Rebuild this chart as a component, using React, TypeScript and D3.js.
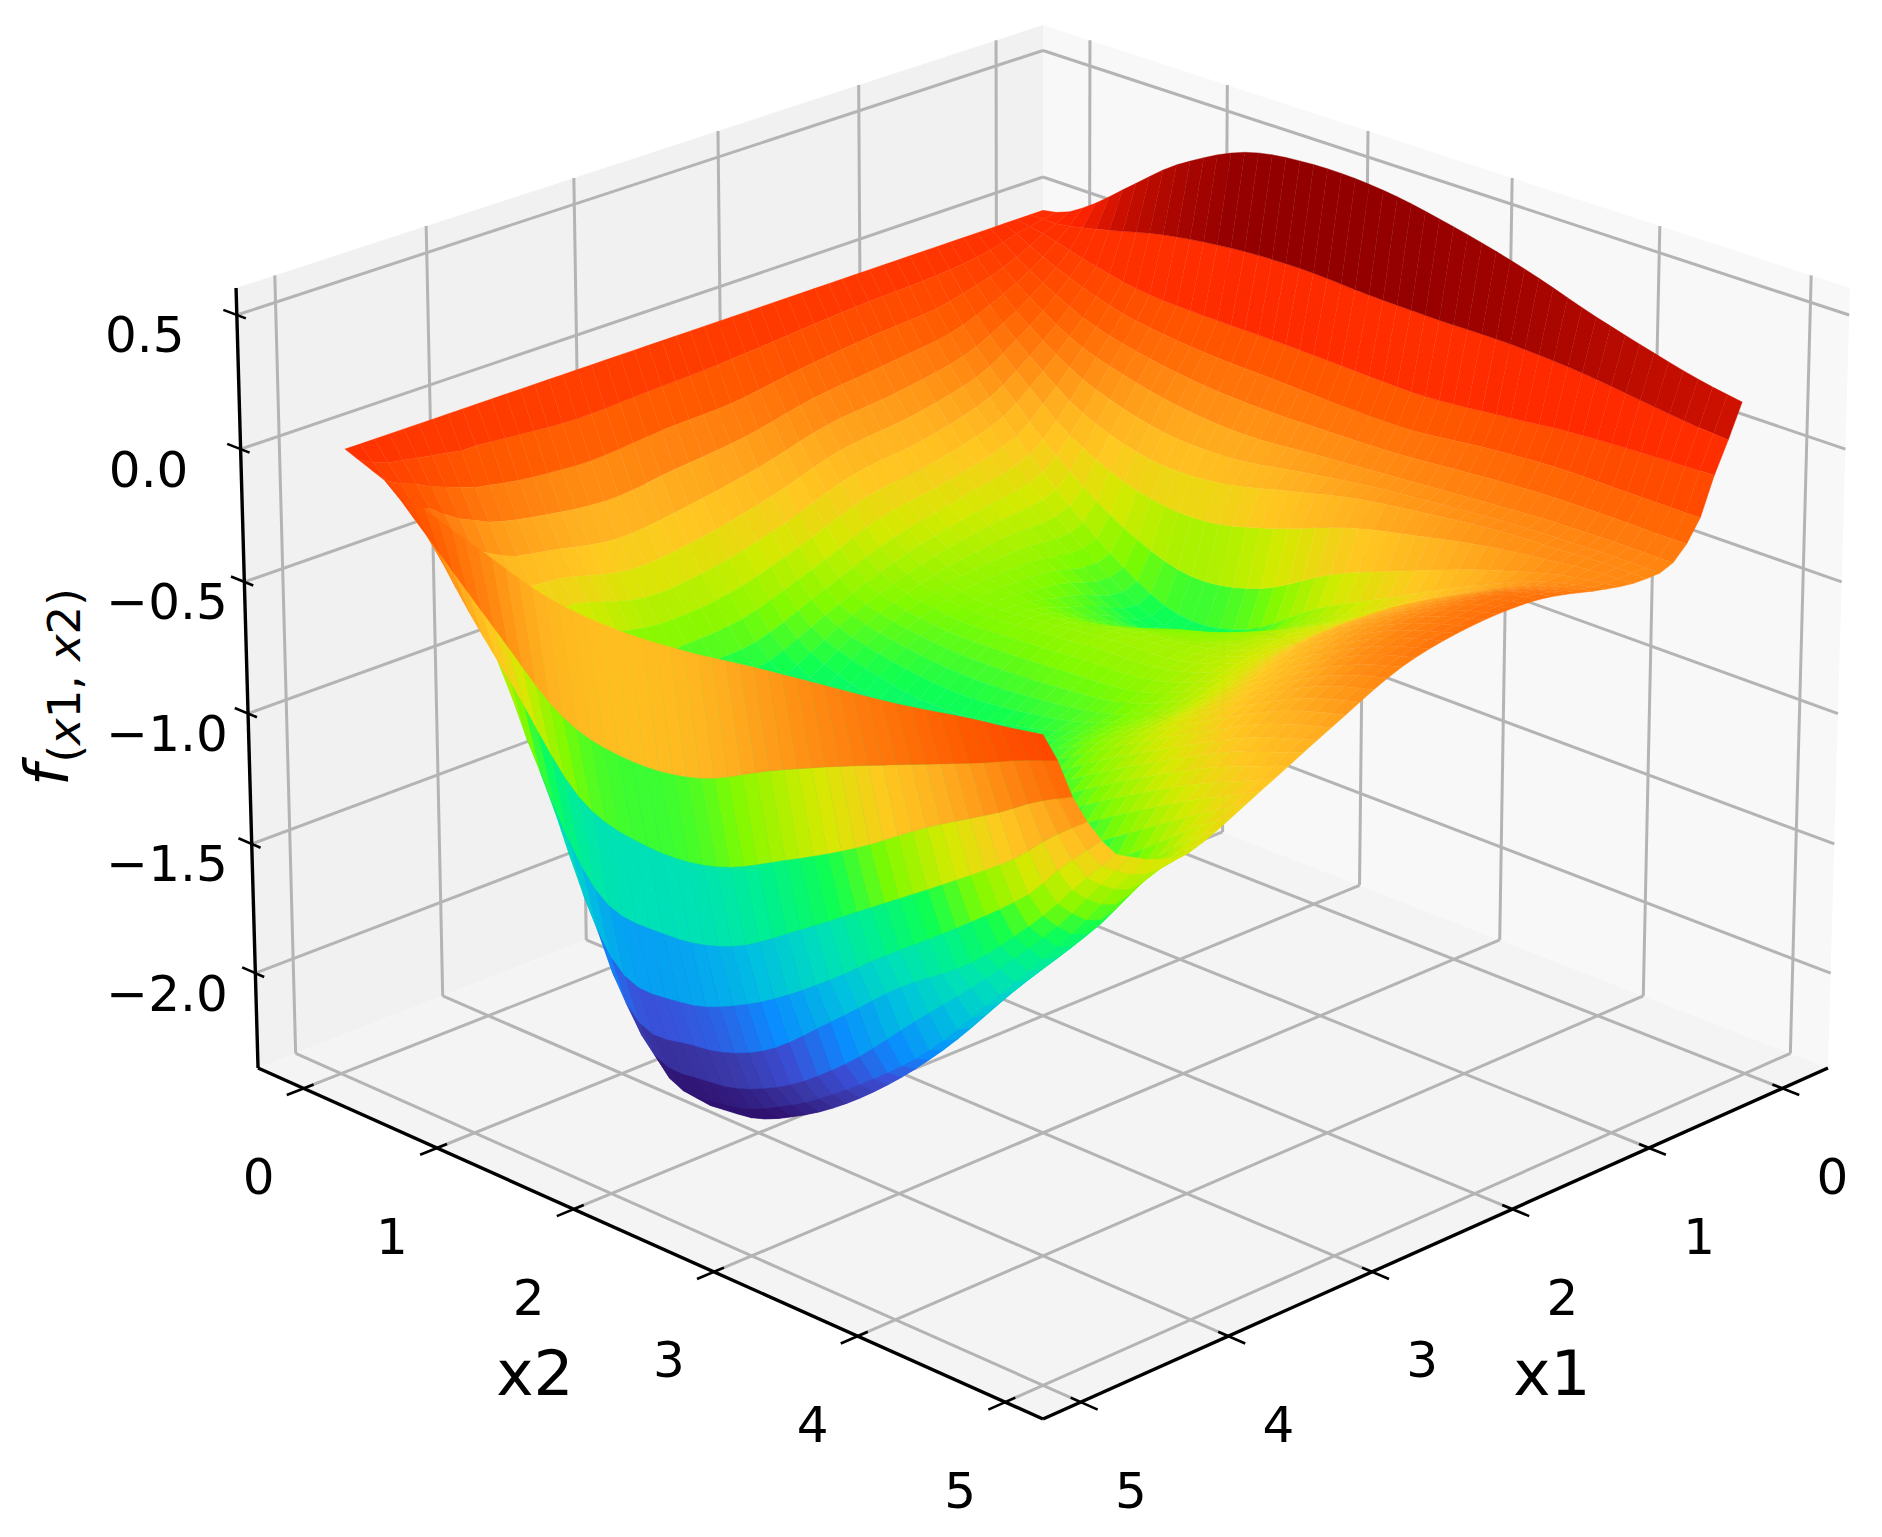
import React, { useMemo } from "react";
import * as d3 from "d3";

// --- values ---
const x1Knots = [0, 0.1, 0.2, 0.3, 0.5, 0.75, 1, 1.5, 2, 2.5, 3, 3.5, 4, 4.2, 4.3, 4.4, 4.5, 4.6, 4.7, 4.8, 4.9, 5];
const x2Knots = [0, 0.1, 0.2, 0.4, 0.7, 1, 1.5, 2, 2.5, 3, 3.5, 4, 4.5, 4.75, 5];
const zRow00 = [0, 0.01, 0.03, 0.1, 0.23, 0.354, 0.49, 0.53, 0.52, 0.47, 0.4, 0.31, 0.233, 0.2, 0.176];
const zRow01 = [0, 0, 0, 0.02, 0.06, 0.1, 0.138, 0.15, 0.138, 0.133, 0.134, 0.117, 0.082, 0.065, 0.053];
const zRow02 = [0, -0.01, -0.02, -0.05, -0.09, -0.116, -0.125, -0.127, -0.135, -0.14, -0.115, -0.085, -0.07, -0.065, -0.06];
const zRow03 = [0, -0.02, -0.05, -0.1, -0.16, -0.2, -0.23, -0.24, -0.25, -0.25, -0.22, -0.2, -0.2, -0.2, -0.2];
const zRow05 = [0, -0.05, -0.1, -0.18, -0.28, -0.34, -0.4, -0.42, -0.4, -0.38, -0.36, -0.34, -0.33, -0.33, -0.33];
const zRow075 = [0, -0.07, -0.14, -0.26, -0.4, -0.52, -0.62, -0.62, -0.55, -0.47, -0.42, -0.38, -0.36, -0.35, -0.35];
const zRow10 = [0, -0.08, -0.17, -0.32, -0.5, -0.66, -0.88, -1.02, -0.98, -0.8, -0.66, -0.52, -0.4, -0.36, -0.33];
const zRow15 = [0, -0.09, -0.19, -0.37, -0.58, -0.72, -0.86, -0.95, -0.88, -0.8, -0.68, -0.5, -0.36, -0.3, -0.27];
const zRow20 = [0, -0.11, -0.22, -0.4, -0.62, -0.78, -0.86, -0.85, -0.82, -0.8, -0.7, -0.5, -0.36, -0.31, -0.27];
const zRow25 = [0, -0.13, -0.26, -0.47, -0.72, -0.88, -0.95, -0.97, -0.95, -0.9, -0.77, -0.58, -0.42, -0.36, -0.32];
const zRow30 = [0, -0.14, -0.27, -0.52, -0.8, -1.0, -1.15, -1.2, -1.12, -0.98, -0.82, -0.67, -0.53, -0.48, -0.44];
const zRow35 = [0, -0.15, -0.29, -0.55, -0.82, -1.05, -1.4, -1.55, -1.45, -1.27, -1.05, -0.87, -0.71, -0.64, -0.57];
const zRow40 = [0, -0.13, -0.27, -0.5, -0.77, -1.3, -1.98, -2.17, -2.06, -1.84, -1.55, -1.3, -1.0, -0.82, -0.69];
const zRow42 = [0, -0.12, -0.25, -0.48, -0.8, -1.47, -2.2, -2.28, -2.17, -1.97, -1.7, -1.37, -1.05, -0.86, -0.67];
const zRow43 = [0, -0.12, -0.24, -0.46, -0.78, -1.42, -2.15, -2.22, -2.11, -1.92, -1.68, -1.36, -1.03, -0.84, -0.65];
const zRow44 = [0, -0.11, -0.22, -0.43, -0.74, -1.32, -2.04, -2.11, -2.02, -1.82, -1.55, -1.28, -0.98, -0.8, -0.62];
const zRow45 = [0, -0.1, -0.2, -0.4, -0.7, -1.2, -1.9, -1.95, -1.86, -1.64, -1.4, -1.2, -0.92, -0.75, -0.59];
const zRow46 = [0, -0.09, -0.18, -0.35, -0.62, -1.1, -1.7, -1.76, -1.66, -1.48, -1.26, -1.05, -0.82, -0.66, -0.52];
const zRow47 = [0, -0.08, -0.15, -0.3, -0.55, -0.95, -1.42, -1.48, -1.42, -1.25, -1.06, -0.87, -0.67, -0.54, -0.43];
const zRow48 = [0, -0.07, -0.13, -0.29, -0.52, -0.72, -1.05, -1.13, -1.1, -0.97, -0.82, -0.64, -0.48, -0.39, -0.32];
const zRow49 = [0, -0.05, -0.1, -0.2, -0.35, -0.5, -0.73, -0.79, -0.75, -0.62, -0.5, -0.39, -0.28, -0.22, -0.17];
const zRow50 = [0, -0.02, -0.04, -0.08, -0.13, -0.18, -0.26, -0.28, -0.26, -0.22, -0.185, -0.15, -0.1, -0.08, -0.056];
const zRows = [zRow00, zRow01, zRow02, zRow03, zRow05, zRow075, zRow10, zRow15, zRow20, zRow25, zRow30, zRow35, zRow40, zRow42, zRow43, zRow44, zRow45, zRow46, zRow47, zRow48, zRow49, zRow50];

const xTicks = [0, 1, 2, 3, 4, 5];
const zTicks = [0.5, 0, -0.5, -1, -1.5, -2];
const colorDomain = [-2.2, 0.5];
const colorStops = [0, 0.07, 0.12, 0.18, 0.26, 0.33, 0.38, 0.44, 0.49, 0.55, 0.6, 0.64, 0.69, 0.74, 0.79, 0.83, 0.86, 0.93, 1];
const colorValues = ["#2f1270", "#3a38a8", "#3a50d8", "#0a8cff", "#00c0e0", "#00e0b8", "#00f090", "#10ff50", "#80fa00", "#d4ea00", "#ffc820", "#ffb020", "#ff8410", "#ff5a00", "#ff3c00", "#ff2400", "#cc1000", "#960000", "#800000"];

const W = 1882;
const H = 1537;

// box calibration
const surfaceX = d3.scaleLinear().domain([0, 5]).range([0.065, 0.935]);
const tickX = d3.scaleLinear().domain([0, 5]).range([0.062, 0.955]);
const boxZ = d3.scaleLinear().domain([-2.37, 0.6]).range([0, 1]);
const K1 = -0.0692, K2 = -0.0276, AX = 795.8, CX = 1043, B0 = 683.4, B1 = 257.65, B2 = -798.7;
const wOf = (x: number, y: number, z: number) => 1 + K1 * (x + y - 1) + K2 * (z - 0.5);
const project = (x: number, y: number, z: number): [number, number] => {
  const w = wOf(x, y, z);
  return [CX + (AX * (y - x)) / w, (B0 + B1 * (x + y - 1) + B2 * (z - 0.5)) / w];
};
const seg = (a: number[], b: number[]) => {
  const p = project(a[0], a[1], a[2]);
  const q = project(b[0], b[1], b[2]);
  return { x1: p[0], y1: p[1], x2: q[0], y2: q[1] };
};
const poly = (pts: number[][]) => pts.map((p) => project(p[0], p[1], p[2]).join(",")).join(" ");

// smooth spline through the read knots, only to draw the surface's facets
function spline(xs: number[], ys: number[], x: number) {
  const n = xs.length;
  let k = d3.bisectRight(xs, x) - 1;
  k = Math.max(0, Math.min(n - 2, k));
  const slope = (i: number) =>
    i === 0 ? (ys[1] - ys[0]) / (xs[1] - xs[0]) : i === n - 1 ? (ys[n - 1] - ys[n - 2]) / (xs[n - 1] - xs[n - 2]) : (ys[i + 1] - ys[i - 1]) / (xs[i + 1] - xs[i - 1]);
  const h = xs[k + 1] - xs[k];
  const t = (x - xs[k]) / h;
  const t2 = t * t, t3 = t2 * t;
  return (2 * t3 - 3 * t2 + 1) * ys[k] + (t3 - 2 * t2 + t) * h * slope(k) + (-2 * t3 + 3 * t2) * ys[k + 1] + (t3 - t2) * h * slope(k + 1);
}

const CELLS = 50;
function buildFacets() {
  const steps = d3.range(CELLS + 1).map((i) => (i * 5) / CELLS);
  const rowsFine = zRows.map((r) => steps.map((x2) => spline(x2Knots, r, x2)));
  const grid = steps.map((x1) => steps.map((_, j) => spline(x1Knots, rowsFine.map((r) => r[j]), x1)));
  const facets: { pts: string; mean: number; depth: number }[] = [];
  for (let i = 0; i < CELLS; i++) {
    for (let j = 0; j < CELLS; j++) {
      const corners = [
        [i, j],
        [i + 1, j],
        [i + 1, j + 1],
        [i, j + 1],
      ];
      const box = corners.map(([a, b]) => [surfaceX(steps[a]), surfaceX(steps[b]), boxZ(grid[a][b])]);
      const mean = d3.mean(corners, ([a, b]) => grid[a][b]) as number;
      const depth = d3.mean(box, (p) => wOf(p[0], p[1], p[2])) as number;
      facets.push({ pts: poly(box), mean, depth });
    }
  }
  facets.sort((a, b) => b.depth - a.depth);
  return facets;
}

const GRID = "#b4b4b4";
const GW = 3;

export default function App() {
  const facets = useMemo(buildFacets, []);
  const norm = d3.scaleLinear().domain(colorDomain).range([0, 1]);
  const color = d3.scaleLinear<string>().domain(colorStops).range(colorValues).clamp(true);

  const ticksDraw: React.ReactNode[] = [];
  xTicks.forEach((v) => {
    const t = tickX(v);
    ticksDraw.push(<line key={`fa${v}`} {...seg([t, 0, 0], [t, 1, 0])} stroke={GRID} strokeWidth={GW} />);
    ticksDraw.push(<line key={`fb${v}`} {...seg([0, t, 0], [1, t, 0])} stroke={GRID} strokeWidth={GW} />);
    ticksDraw.push(<line key={`wa${v}`} {...seg([t, 0, 0], [t, 0, 1])} stroke={GRID} strokeWidth={GW} />);
    ticksDraw.push(<line key={`wb${v}`} {...seg([0, t, 0], [0, t, 1])} stroke={GRID} strokeWidth={GW} />);
  });
  zTicks.forEach((v) => {
    const t = boxZ(v);
    ticksDraw.push(<line key={`za${v}`} {...seg([1, 0, t], [0, 0, t])} stroke={GRID} strokeWidth={GW} />);
    ticksDraw.push(<line key={`zb${v}`} {...seg([0, 0, t], [0, 1, t])} stroke={GRID} strokeWidth={GW} />);
  });

  const axisFont = { fontFamily: "DejaVu Sans", fill: "#000" } as const;

  return (
    <svg width={W} height={H} viewBox={`0 0 ${W} ${H}`} style={{ position: "absolute", left: 0, top: 0, display: "block", background: "#fff" }}>
      <polygon points={poly([[1, 0, 0], [1, 0, 1], [0, 0, 1], [0, 0, 0]])} fill="#f1f1f1" />
      <polygon points={poly([[0, 1, 0], [0, 1, 1], [0, 0, 1], [0, 0, 0]])} fill="#f8f8f8" />
      <polygon points={poly([[1, 0, 0], [1, 1, 0], [0, 1, 0], [0, 0, 0]])} fill="#f4f4f4" />
      {ticksDraw}

      <g>
        {facets.map((f, i) => {
          const c = color(norm(f.mean));
          return <polygon key={i} points={f.pts} fill={c} stroke={c} strokeWidth={0.35} />;
        })}
      </g>

      {/* axes */}
      <line {...seg([1, 0, 0], [1, 1, 0])} stroke="#000" strokeWidth={3.4} />
      <line {...seg([1, 1, 0], [0, 1, 0])} stroke="#000" strokeWidth={3.4} />
      <line {...seg([1, 0, 0], [1, 0, 1])} stroke="#000" strokeWidth={3.4} />
      {xTicks.map((v) => {
        const t = tickX(v);
        const p = project(1, t, 0);
        const q = project(t, 1, 0);
        return (
          <g key={`t${v}`}>
            <line {...seg([0.988, t, 0], [1.02, t, 0])} stroke="#000" strokeWidth={2.6} />
            <line {...seg([t, 0.988, 0], [t, 1.02, 0])} stroke="#000" strokeWidth={2.6} />
            <text x={p[0] - 45} y={p[1] + 92} textAnchor="middle" dominantBaseline="middle" fontSize={50} {...axisFont}>{v}</text>
            <text x={q[0] + 50} y={q[1] + 92} textAnchor="middle" dominantBaseline="middle" fontSize={50} {...axisFont}>{v}</text>
          </g>
        );
      })}
      {zTicks.map((v) => {
        const t = boxZ(v);
        const p = project(1, 0, t);
        return (
          <g key={`zt${v}`}>
            <line {...seg([1, -0.018, t], [1, 0.012, t])} stroke="#000" strokeWidth={2.6} />
            <text x={v >= 0 ? p[0] - 92 : 167} y={p[1] + 24} textAnchor="middle" dominantBaseline="middle" fontSize={50} {...axisFont}>
              {v.toFixed(1).replace("-", "\u2212")}
            </text>
          </g>
        );
      })}

      <text x={535} y={1378} textAnchor="middle" dominantBaseline="middle" fontSize={63} {...axisFont}>x2</text>
      <text x={1552} y={1378} textAnchor="middle" dominantBaseline="middle" fontSize={63} {...axisFont}>x1</text>
      <text transform="translate(68,786) rotate(-90)" {...axisFont}>
        <tspan fontSize={61} fontStyle="italic">f</tspan>
        <tspan fontSize={45} dy={12} dx={2}>(</tspan>
        <tspan fontSize={45} fontStyle="italic">x</tspan>
        <tspan fontSize={45}>1, </tspan>
        <tspan fontSize={45} fontStyle="italic">x</tspan>
        <tspan fontSize={45}>2)</tspan>
      </text>
    </svg>
  );
}
